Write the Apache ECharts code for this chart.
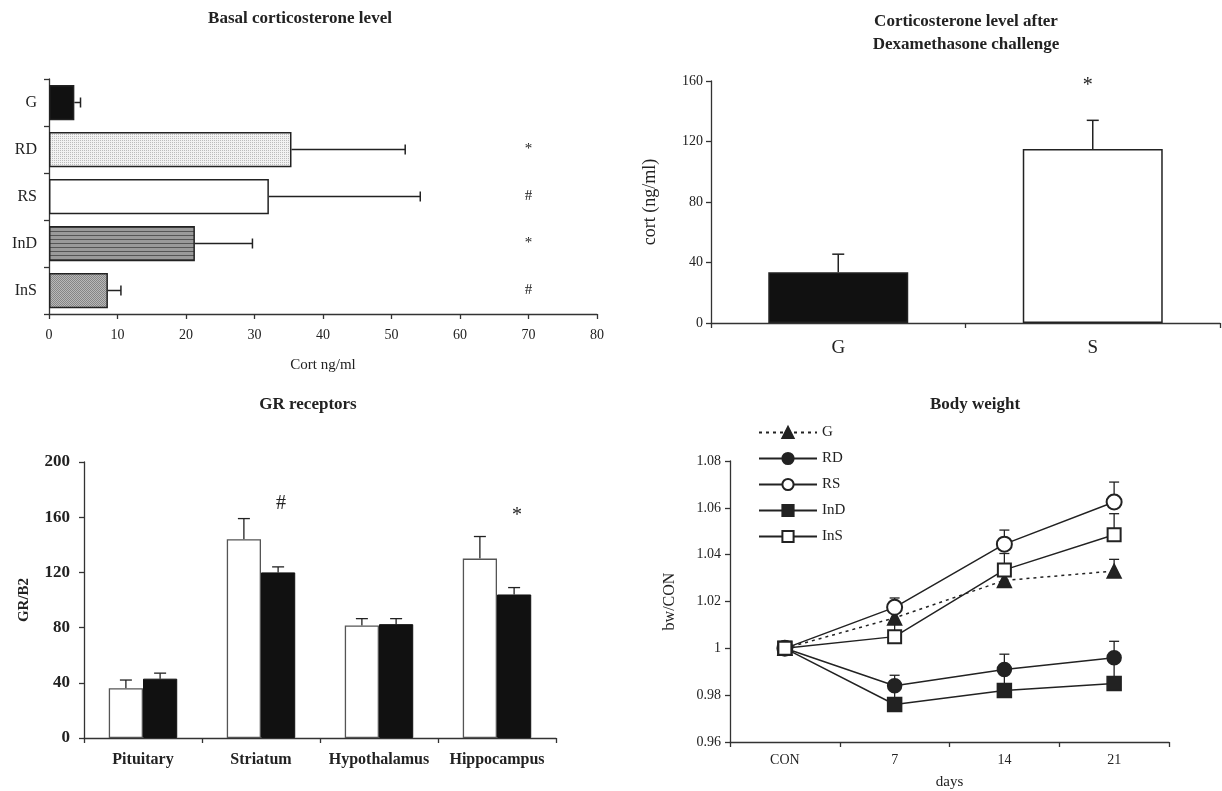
<!DOCTYPE html>
<html><head><meta charset="utf-8">
<script src="https://cdn.jsdelivr.net/npm/echarts@6/dist/echarts.min.js"></script>
<style>html,body{margin:0;padding:0;background:#fff}#c{width:1222px;height:791px}</style>
</head><body><div id="c"></div>
<script>
// ---------- Panel A: Basal corticosterone level ----------
const basalCats = ['G', 'RD', 'RS', 'InD', 'InS'];
const basalMean = [3.7, 35.4, 32.1, 21.3, 8.6];
const basalErrTop = [4.6, 52.0, 54.2, 29.7, 10.5];
const basalSig = ['', '*', '#', '*', '#'];
const basalSigAt = [70, 70, 70, 70, 70];

// ---------- Panel B: Corticosterone after Dexamethasone ----------
const dexCats = ['G', 'S'];
const dexMean = [33.5, 115];
const dexErrTop = [45.5, 134];
const dexSig = ['', '*'];
const dexSigAt = [0, 157];

// ---------- Panel C: GR receptors ----------
const grCats = ['Pituitary', 'Striatum', 'Hypothalamus', 'Hippocampus'];
const grWhite = [36, 144, 81.5, 130];
const grWhiteErrTop = [42, 159, 86.5, 146];
const grBlack = [43, 120, 82.5, 104];
const grBlackErrTop = [47, 124, 86.5, 109];
const grSig = ['', '#', '', '*'];
const grSigAt = [0, 170, 0, 161];

// ---------- Panel D: Body weight ----------
const bwDays = ['CON', '7', '14', '21'];
const bwNames = ['G', 'RD', 'RS', 'InD', 'InS'];
const bwG = [1, 1.013, 1.029, 1.033];
const bwGErrTop = [1, 1.017, 1.032, 1.038];
const bwRD = [1, 0.984, 0.991, 0.996];
const bwRDErrTop = [1, 0.9885, 0.9975, 1.003];
const bwRS = [1, 1.0175, 1.0445, 1.0625];
const bwRSErrTop = [1, 1.0215, 1.0505, 1.071];
const bwInD = [1, 0.976, 0.982, 0.985];
const bwInDErrTop = [1, 0.983, 0.990, 0.995];
const bwInS = [1, 1.005, 1.0335, 1.0485];
const bwInSErrTop = [1, 1.011, 1.0405, 1.0575];

// ---------- styling helpers ----------
const FONT = '"Liberation Serif", "Times New Roman", serif';
const INK = '#222';
function pattern(w, h, draw) {
  const c = document.createElement('canvas'); c.width = w; c.height = h;
  draw(c.getContext('2d'));
  return { image: c, repeat: 'repeat' };
}
const patRD = pattern(2, 2, g => { g.fillStyle = '#f2f2f2'; g.fillRect(0, 0, 2, 2); g.fillStyle = '#bcbcbc'; g.fillRect(0, 0, 1, 1); });
const patInD = pattern(4, 4, g => { g.fillStyle = '#9a9a9a'; g.fillRect(0, 0, 4, 4); g.fillStyle = '#555'; g.fillRect(0, 3, 4, 1); });
const patInS = pattern(2, 2, g => { g.fillStyle = '#b8b8b8'; g.fillRect(0, 0, 2, 2); g.fillStyle = '#858585'; g.fillRect(0, 0, 1, 1); g.fillRect(1, 1, 1, 1); });
const basalFill = ['#111', patRD, '#fff', patInD, patInS];

function ln(x1, y1, x2, y2, w) {
  return { type: 'line', shape: { x1, y1, x2, y2 }, style: { stroke: INK, lineWidth: w || 1.5 } };
}
function axisCommon(extra) {
  return Object.assign({
    axisLine: { show: true, lineStyle: { color: '#333', width: 1.3 } },
    axisTick: { show: true, length: 5, lineStyle: { color: '#333', width: 1.3 } },
    splitLine: { show: false },
    axisLabel: { color: INK, fontFamily: FONT, fontSize: 14 },
    nameTextStyle: { color: INK, fontFamily: FONT, fontSize: 15 }
  }, extra);
}

const chart = echarts.init(document.getElementById('c'), null, { renderer: 'canvas' });

const bwSeriesVals = [bwG, bwRD, bwRS, bwInD, bwInS];
const bwErrVals = [bwGErrTop, bwRDErrTop, bwRSErrTop, bwInDErrTop, bwInSErrTop];
const bwSymbols = ['triangle', 'circle', 'emptyCircle', 'rect', 'emptyRect'];
const bwSymSize = [14, 14, 15, 14, 13];

const bwErrData = [];
bwSeriesVals.forEach((s, k) => s.forEach((v, i) => { if (bwErrVals[k][i] > v) bwErrData.push([i, v, bwErrVals[k][i]]); }));

const option = {
  backgroundColor: '#fff',
  animation: false,
  title: [
    { text: 'Basal corticosterone level', left: 300, top: 10, textAlign: 'center', padding: 0,
      textStyle: { fontFamily: FONT, fontWeight: 'bold', fontSize: 17, color: INK } },
    { text: 'Corticosterone level after\nDexamethasone challenge', left: 966, top: 10, textAlign: 'center', padding: 0,
      textStyle: { fontFamily: FONT, fontWeight: 'bold', fontSize: 17, color: INK, lineHeight: 23 } },
    { text: 'GR receptors', left: 308, top: 396, textAlign: 'center', padding: 0,
      textStyle: { fontFamily: FONT, fontWeight: 'bold', fontSize: 17, color: INK } },
    { text: 'Body weight', left: 975, top: 396, textAlign: 'center', padding: 0,
      textStyle: { fontFamily: FONT, fontWeight: 'bold', fontSize: 17, color: INK } }
  ],
  legend: {
    data: bwNames, orient: 'vertical', left: 758, top: 425, padding: 0,
    itemWidth: 58, itemHeight: 14, itemGap: 11,
    textStyle: { fontFamily: FONT, fontSize: 15, color: INK }
  },
  grid: [
    { left: 49, top: 79, width: 548, height: 235 },
    { left: 711, top: 81, width: 509, height: 242 },
    { left: 84, top: 462, width: 472, height: 276 },
    { left: 730, top: 461, width: 439, height: 281 }
  ],
  xAxis: [
    axisCommon({ gridIndex: 0, type: 'value', min: 0, max: 80, interval: 10,
      name: 'Cort ng/ml', nameLocation: 'middle', nameGap: 44,
      axisLabel: { color: INK, fontFamily: FONT, fontSize: 14, margin: 14 } }),
    axisCommon({ gridIndex: 1, type: 'category', data: dexCats,
      axisLabel: { color: INK, fontFamily: FONT, fontSize: 19, margin: 16 } }),
    axisCommon({ gridIndex: 2, type: 'category', data: grCats,
      axisLabel: { color: INK, fontFamily: FONT, fontSize: 16, fontWeight: 'bold', margin: 14, interval: 0 } }),
    axisCommon({ gridIndex: 3, type: 'category', data: bwDays,
      name: 'days', nameLocation: 'middle', nameGap: 33,
      axisLabel: { color: INK, fontFamily: FONT, fontSize: 14, margin: 11, interval: 0 } })
  ],
  yAxis: [
    axisCommon({ gridIndex: 0, type: 'category', data: basalCats, inverse: true,
      axisLabel: { color: INK, fontFamily: FONT, fontSize: 16, margin: 12, interval: 0 } }),
    axisCommon({ gridIndex: 1, type: 'value', min: 0, max: 160, interval: 40,
      name: 'cort (ng/ml)', nameLocation: 'middle', nameGap: 52,
      nameTextStyle: { color: INK, fontFamily: FONT, fontSize: 18 },
      axisLabel: { color: INK, fontFamily: FONT, fontSize: 14, margin: 8 } }),
    axisCommon({ gridIndex: 2, type: 'value', min: 0, max: 200, interval: 40,
      name: 'GR/B2', nameLocation: 'middle', nameGap: 52,
      nameTextStyle: { color: INK, fontFamily: FONT, fontSize: 15, fontWeight: 'bold' },
      axisLabel: { color: INK, fontFamily: FONT, fontSize: 17, fontWeight: 'bold', margin: 14 } }),
    axisCommon({ gridIndex: 3, type: 'value', min: 0.96, max: 1.08, interval: 0.02,
      name: 'bw/CON', nameLocation: 'middle', nameGap: 52,
      nameTextStyle: { color: INK, fontFamily: FONT, fontSize: 16 },
      axisLabel: { color: INK, fontFamily: FONT, fontSize: 14, margin: 9 } })
  ],
  series: [
    // Panel A bars
    { type: 'bar', name: 'basal', xAxisIndex: 0, yAxisIndex: 0, barCategoryGap: '25%',
      data: basalMean.map((v, i) => ({ value: v, itemStyle: { color: basalFill[i], borderColor: INK, borderWidth: 1.5 } })) },
    { type: 'custom', name: 'basalErr', xAxisIndex: 0, yAxisIndex: 0, z: 3,
      data: basalMean.map((v, i) => [v, i, basalErrTop[i]]), encode: { x: [0, 2], y: 1 },
      renderItem: (p, api) => {
        const a = api.coord([api.value(0), api.value(1)]), b = api.coord([api.value(2), api.value(1)]);
        return { type: 'group', children: [ln(a[0], a[1], b[0], b[1]), ln(b[0], b[1] - 5, b[0], b[1] + 5)] };
      } },
    { type: 'custom', name: 'basalSig', xAxisIndex: 0, yAxisIndex: 0,
      data: basalSigAt.map((v, i) => [v, i]), encode: { x: 0, y: 1 },
      renderItem: (p, api) => {
        const a = api.coord([api.value(0), api.value(1)]);
        return { type: 'text', x: a[0], y: a[1], style: { text: basalSig[p.dataIndex], fill: INK, font: '15px ' + FONT, align: 'center', verticalAlign: 'middle' } };
      } },
    // Panel B bars
    { type: 'bar', name: 'dex', xAxisIndex: 1, yAxisIndex: 1, barCategoryGap: '45%',
      data: dexMean.map((v, i) => ({ value: v, itemStyle: { color: i === 0 ? '#111' : '#fff', borderColor: INK, borderWidth: 1.5 } })) },
    { type: 'custom', name: 'dexErr', xAxisIndex: 1, yAxisIndex: 1, z: 1,
      data: dexMean.map((v, i) => [i, v, dexErrTop[i]]), encode: { x: 0, y: [1, 2] },
      renderItem: (p, api) => {
        const a = api.coord([api.value(0), api.value(1)]), b = api.coord([api.value(0), api.value(2)]);
        return { type: 'group', children: [ln(a[0], a[1], b[0], b[1]), ln(b[0] - 6, b[1], b[0] + 6, b[1])] };
      } },
    { type: 'custom', name: 'dexSig', xAxisIndex: 1, yAxisIndex: 1,
      data: dexSigAt.map((v, i) => [i, v]), encode: { x: 0, y: 1 },
      renderItem: (p, api) => {
        const a = api.coord([api.value(0), api.value(1)]);
        return { type: 'text', x: a[0] - 5, y: a[1], style: { text: dexSig[p.dataIndex], fill: INK, font: '20px ' + FONT, align: 'center', verticalAlign: 'middle' } };
      } },
    // Panel C bars
    { type: 'bar', name: 'grWhite', xAxisIndex: 2, yAxisIndex: 2, barGap: '0%', barCategoryGap: '42%',
      itemStyle: { color: '#fff', borderColor: '#555', borderWidth: 1.3 }, data: grWhite },
    { type: 'bar', name: 'grBlack', xAxisIndex: 2, yAxisIndex: 2, barGap: '0%', barCategoryGap: '42%',
      itemStyle: { color: '#111', borderColor: '#111', borderWidth: 1 }, data: grBlack },
    { type: 'custom', name: 'grErr', xAxisIndex: 2, yAxisIndex: 2, z: 1,
      data: grWhite.map((v, i) => [i, v, grWhiteErrTop[i], -1]).concat(grBlack.map((v, i) => [i, v, grBlackErrTop[i], 1])),
      encode: { x: 0, y: [1, 2] },
      renderItem: (p, api) => {
        const band = api.size([1, 0])[0];
        const off = api.value(3) * band * 0.58 / 4;
        const a = api.coord([api.value(0), api.value(1)]), b = api.coord([api.value(0), api.value(2)]);
        const x = a[0] + off;
        return { type: 'group', children: [ln(x, a[1], x, b[1], 1.3), ln(x - 6, b[1], x + 6, b[1], 1.3)] };
      } },
    { type: 'custom', name: 'grSig', xAxisIndex: 2, yAxisIndex: 2,
      data: grSigAt.map((v, i) => [i, v]), encode: { x: 0, y: 1 },
      renderItem: (p, api) => {
        const band = api.size([1, 0])[0];
        const a = api.coord([api.value(0), api.value(1)]);
        return { type: 'text', x: a[0] + band * 0.58 / 4 + 3, y: a[1], style: { text: grSig[p.dataIndex], fill: INK, font: '20px ' + FONT, align: 'center', verticalAlign: 'middle' } };
      } },
    // Panel D error bars
    { type: 'custom', name: 'bwErr', xAxisIndex: 3, yAxisIndex: 3, z: 1,
      data: bwErrData, encode: { x: 0, y: [1, 2] },
      renderItem: (p, api) => {
        const a = api.coord([api.value(0), api.value(1)]), b = api.coord([api.value(0), api.value(2)]);
        return { type: 'group', children: [ln(a[0], a[1], b[0], b[1], 1.3), ln(b[0] - 5, b[1], b[0] + 5, b[1], 1.3)] };
      } }
  ].concat(bwNames.map((nm, k) => ({
    type: 'line', name: nm, xAxisIndex: 3, yAxisIndex: 3, z: 3,
    data: bwSeriesVals[k], symbol: bwSymbols[k], symbolSize: bwSymSize[k],
    lineStyle: { color: INK, width: 1.5, type: k === 0 ? [3, 4] : 'solid' },
    itemStyle: { color: INK, borderColor: INK, borderWidth: 1.5 }
  })))
};
chart.setOption(option);
</script>
</body></html>
